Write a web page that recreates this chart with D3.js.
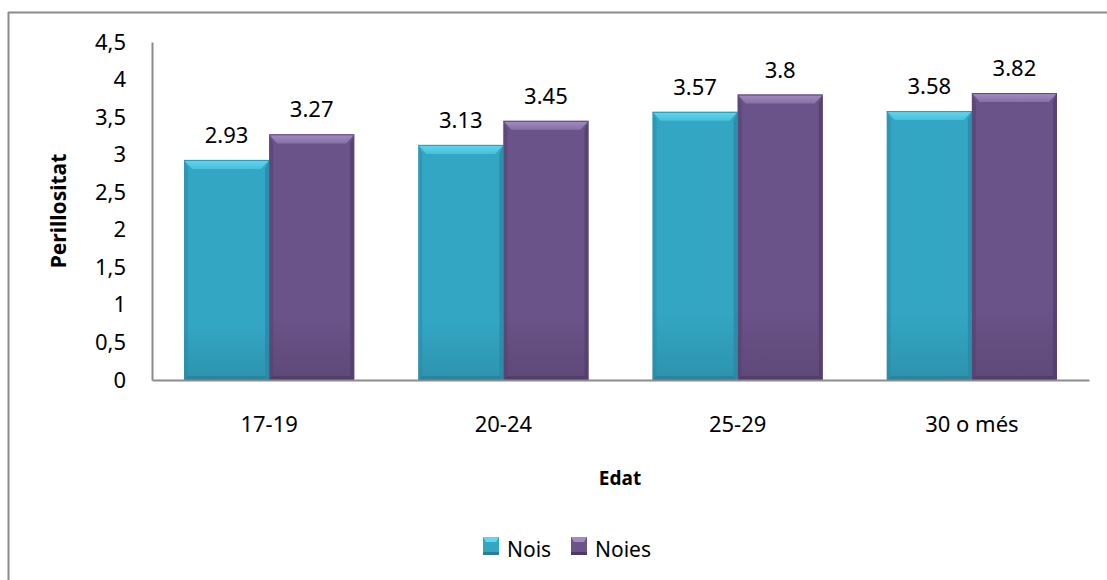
<!DOCTYPE html>
<html><head><meta charset="utf-8">
<script src="https://cdn.jsdelivr.net/npm/d3@7"></script>
<style>body{margin:0;background:#fff}svg{display:block}text{font-family:"Noto Sans",sans-serif}</style>
</head><body><svg id="c" width="1107" height="580"></svg>
<script>
const categories = ["17-19","20-24","25-29","30 o més"];
const seriesNames = ["Nois","Noies"];
const noisValues = [2.93,3.13,3.57,3.58];
const noiesValues = [3.27,3.45,3.8,3.82];
const yTicks = [0,0.5,1,1.5,2,2.5,3,3.5,4,4.5];
const yTickLabels = ["0","0,5","1","1,5","2","2,5","3","3,5","4","4,5"];
const yTitle = "Perillositat";
const xTitle = "Edat";

const svg = d3.select("#c");
const colors = {
  Nois:{main:"#33a6c4", top:"#62d6ee", topDark:"#48bfdc", side:"#2a8aa6", bottom:"#2a7f98"},
  Noies:{main:"#6a5388", top:"#a28cc0", topDark:"#8670a6", side:"#54406e", bottom:"#4d3b66"}
};
const defs = svg.append("defs");
seriesNames.forEach(s=>{
  const g = defs.append("linearGradient").attr("id","g"+s).attr("x1","0").attr("x2","0").attr("y1","0").attr("y2","1");
  g.append("stop").attr("offset","0").attr("stop-color",colors[s].main);
  g.append("stop").attr("offset","0.75").attr("stop-color",colors[s].main);
  g.append("stop").attr("offset","1").attr("stop-color",d3.color(colors[s].main).darker(0.35));
  const t = defs.append("linearGradient").attr("id","t"+s).attr("x1","0").attr("x2","0").attr("y1","0").attr("y2","1");
  t.append("stop").attr("offset","0").attr("stop-color",colors[s].top);
  t.append("stop").attr("offset","1").attr("stop-color",colors[s].topDark);
});

// outer border (top and left)
svg.append("line").attr("x1",8).attr("x2",1107).attr("y1",12.5).attr("y2",12.5).attr("stroke","#8c8c8c").attr("stroke-width",2);
svg.append("line").attr("x1",8.5).attr("x2",8.5).attr("y1",12).attr("y2",580).attr("stroke","#8c8c8c").attr("stroke-width",2);

const y = d3.scaleLinear().domain([0,4.5]).range([380,42]);
const x0 = d3.scaleBand().domain(categories).range([152,1089]);
const x1 = d3.scaleBand().domain(seriesNames).range([0,x0.bandwidth()]).paddingInner(0).paddingOuter(0.376);

const data = categories.map((c,i)=>({cat:c, vals:[{s:"Nois",v:noisValues[i]},{s:"Noies",v:noiesValues[i]}]}));

const groups = svg.append("g").selectAll("g").data(data).join("g").attr("transform",d=>`translate(${x0(d.cat)},0)`);
const bars = groups.selectAll("g.bar").data(d=>d.vals).join("g").attr("class","bar");
bars.each(function(d){
  const g = d3.select(this);
  const bx = x1(d.s), bw = x1.bandwidth(), top = y(d.v), bot = y(0);
  const c = colors[d.s];
  const bev = 9, side = 4;
  g.append("rect").attr("x",bx).attr("y",top).attr("width",bw).attr("height",bot-top).attr("fill",`url(#g${d.s})`);
  g.append("polygon").attr("points",`${bx},${top} ${bx+side},${top+bev} ${bx+side},${bot-side} ${bx},${bot}`).attr("fill",c.side).attr("opacity",0.55);
  g.append("polygon").attr("points",`${bx+bw},${top} ${bx+bw-side},${top+bev} ${bx+bw-side},${bot-side} ${bx+bw},${bot}`).attr("fill",c.side).attr("opacity",0.85);
  g.append("polygon").attr("points",`${bx},${bot} ${bx+side},${bot-side} ${bx+bw-side},${bot-side} ${bx+bw},${bot}`).attr("fill",c.bottom).attr("opacity",0.8);
  g.append("polygon").attr("points",`${bx},${top} ${bx+bw},${top} ${bx+bw-side-4},${top+bev} ${bx+side+4},${top+bev}`).attr("fill",`url(#t${d.s})`);
  g.append("line").attr("x1",bx).attr("x2",bx+bw).attr("y1",top+0.5).attr("y2",top+0.5).attr("stroke",d3.color(c.main).darker(0.3)).attr("stroke-width",1);
  g.append("text").attr("x",bx+bw/2).attr("y",top-17).attr("text-anchor","middle").attr("font-size",22).attr("fill","#000").text(String(d.v));
});

// axes
const yAxis = d3.axisLeft(y).tickValues(yTicks).tickFormat((d,i)=>yTickLabels[i]).tickSize(0).tickPadding(26);
const ya = svg.append("g").attr("transform","translate(152,0)").call(yAxis);
ya.select(".domain").attr("stroke","#8c8c8c").attr("stroke-width",2);
ya.selectAll("text").attr("font-size",22).attr("fill","#000").attr("font-family","Noto Sans");

const xAxis = d3.axisBottom(x0).tickSize(0).tickPadding(36);
const xa = svg.append("g").attr("transform","translate(0,380)").call(xAxis);
xa.select(".domain").attr("stroke","#8c8c8c").attr("stroke-width",2);
xa.selectAll("text").attr("font-size",22).attr("fill","#000").attr("font-family","Noto Sans");

svg.append("text").attr("transform","translate(66,211) rotate(-90)").attr("text-anchor","middle").attr("font-size",21).attr("font-weight","bold").text(yTitle);
svg.append("text").attr("x",620).attr("y",485).attr("text-anchor","middle").attr("font-size",19).attr("font-weight","bold").text(xTitle);

// legend
const legX = [483,571];
const leg = svg.append("g").selectAll("g").data(seriesNames).join("g").attr("transform",(d,i)=>`translate(${legX[i]},537)`);
leg.append("rect").attr("width",16).attr("height",18).attr("fill",d=>colors[d].main);
leg.append("polygon").attr("points","0,0 16,0 13,5 3,5").attr("fill",d=>colors[d].top);
leg.append("rect").attr("y",15).attr("width",16).attr("height",3).attr("fill",d=>colors[d].bottom);
leg.append("text").attr("x",24).attr("y",20).attr("font-size",21).text(d=>d);
</script></body></html>
